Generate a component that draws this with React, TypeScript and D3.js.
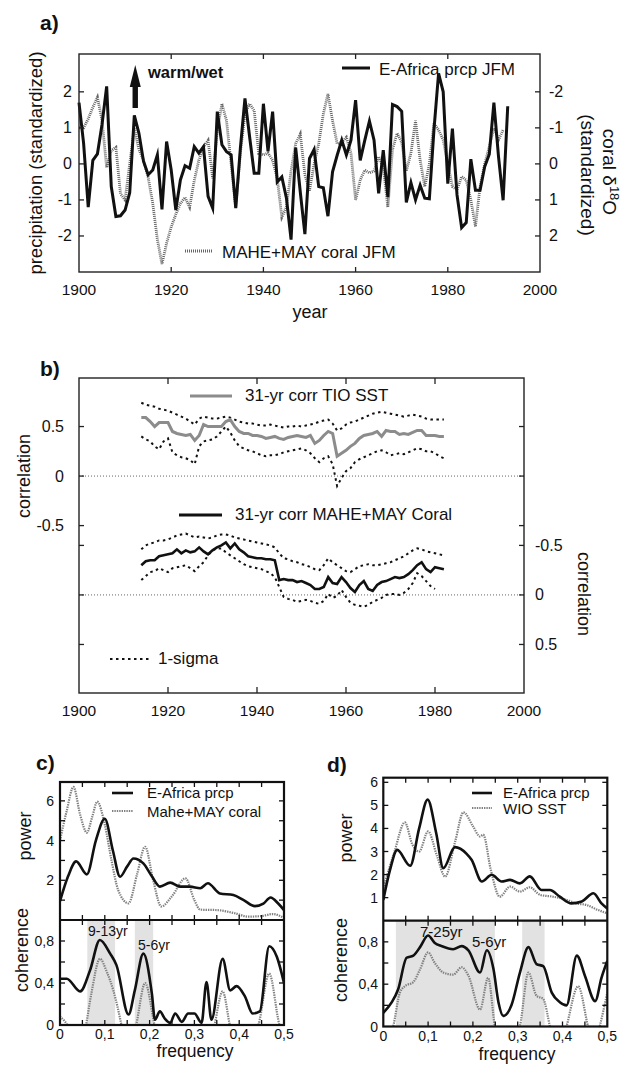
import React from 'react';
import * as d3 from 'd3';

const FONT = '"Liberation Sans", Arial, Helvetica, sans-serif';

// ---------- panel a ----------
const precipStart = 1900;
const precipJFM = [
  1.7, 0.57, -1.2, 0.1, 0.28, 1.1, 2.15, -0.63, -1.46, -1.44,
  -1.28, -0.8, 1.35, 0.85, 0.07, -0.3, -0.17, 0.25, -1.26, 0.62,
  -0.17, -1.28, -0.44, -0.05, -0.12, 0.48, 0.3, 0.48, -0.9, -1.23,
  1.45, 0.53, 0.34, 0.25, -1.23, 0.43, 1.82, 0.76, -0.26, -0.26,
  1.67, 0.35, 1.45, -0.5, -0.36, -0.95, -2.1, 0.45, -0.78, -1.95,
  0.15, 0.4, -0.63, -0.66, -1.45, -0.22, 0.24, 0.66, 0.25, 0.66,
  1.77, 0.1, 0.66, 1.19, 0.66, -0.82, 0.38, -0.92, 1.65, 1.59,
  1.46, -1.07, -0.52, -1.0, -0.59, -0.95, -0.97, 0.95, 2.51, 2.0,
  -0.55, 0.98, -0.86, -1.77, -1.63, 0.13, -0.73, -0.73, -0.08, 0.27,
  1.7, 0.2, -1.01, 1.6,
];
const coralStart = 1900;
const coralJFM = [
  -1.0, -1.0, -1.25, -1.57, -1.85, -1.2, 0.1, -0.37, -0.46, 0.83,
  1.0, 0.0, -1.0, -0.4, -0.1, 0.37, 1.1, 2.1, 2.78, 2.2,
  1.75, 1.4, 1.1, 0.93, 1.2, 0.46, -0.1, -0.46, -0.65, 0.4,
  -0.93, -1.67, -1.2, 0.0, 1.2, -0.3, -1.39, -1.67, -1.48, -0.28,
  -0.25, -0.3, -0.1, 0.4, 1.48, 1.2, 0.2, -0.56, -0.83, 0.3,
  0.74, 0.0, -0.56, -1.39, -1.94, -1.2, -0.56, -0.6, -0.74, -0.3,
  1.0, 0.45, 0.17, 0.25, 0.2, -0.2, 0.1, 1.2, -0.4, -0.85,
  -0.6, 0.2, -0.3, -1.2, -0.1, 0.63, 0.0, -1.13, -0.94, -0.67,
  0.0, 0.63, 0.72, 0.35, 0.45, 1.0, 1.74, 0.63, 0.0, -0.48,
  -1.0, -0.67, -0.94,
];
const aYearTicks = [1900, 1920, 1940, 1960, 1980, 2000];
const aLeftTicks = [-2, -1, 0, 1, 2];
const aRightTicks = [-2, -1, 0, 1, 2];

// ---------- panel b ----------
const corrStart = 1914;
const tioCorr = [
  0.59, 0.59, 0.55, 0.50, 0.54, 0.54, 0.54, 0.45, 0.43, 0.42,
  0.41, 0.42, 0.36, 0.41, 0.52, 0.50, 0.50, 0.50, 0.50, 0.55,
  0.57, 0.50, 0.45, 0.43, 0.43, 0.41, 0.41, 0.40, 0.38, 0.39,
  0.40, 0.38, 0.37, 0.39, 0.40, 0.41, 0.40, 0.39, 0.41, 0.33,
  0.36, 0.41, 0.45, 0.43, 0.20, 0.23, 0.26, 0.30, 0.33, 0.38,
  0.41, 0.42, 0.43, 0.45, 0.40, 0.46, 0.45, 0.45, 0.42, 0.43,
  0.42, 0.44, 0.46, 0.46, 0.41, 0.41, 0.41, 0.40, 0.40,
];
const tioUpper = [
  0.74, 0.72, 0.71, 0.70, 0.68, 0.67, 0.66, 0.64, 0.62, 0.60,
  0.58, 0.55, 0.52, 0.58, 0.60, 0.59, 0.58, 0.58, 0.59, 0.60,
  0.59, 0.57, 0.55, 0.54, 0.53, 0.53, 0.52, 0.51, 0.51, 0.52,
  0.51, 0.50, 0.49, 0.50, 0.50, 0.51, 0.50, 0.51, 0.52, 0.53,
  0.55, 0.56, 0.57, 0.53, 0.46, 0.48, 0.52, 0.54, 0.55, 0.57,
  0.59, 0.61, 0.63, 0.64, 0.65, 0.64, 0.63, 0.62, 0.61, 0.60,
  0.61, 0.62, 0.61, 0.60, 0.58, 0.57, 0.57, 0.57, 0.57,
];
const tioLower = [
  0.40, 0.37, 0.35, 0.30, 0.27, 0.35, 0.38, 0.24, 0.21, 0.19,
  0.18, 0.16, 0.12, 0.30, 0.35, 0.36, 0.37, 0.40, 0.45, 0.50,
  0.44, 0.36, 0.30, 0.28, 0.26, 0.25, 0.23, 0.21, 0.20, 0.21,
  0.21, 0.22, 0.24, 0.25, 0.26, 0.27, 0.28, 0.26, 0.23, 0.18,
  0.14, 0.18, 0.20, 0.12, -0.10, -0.02, 0.05, 0.08, 0.14, 0.17,
  0.19, 0.21, 0.23, 0.25, 0.26, 0.24, 0.21, 0.22, 0.23, 0.22,
  0.24, 0.26, 0.28, 0.27, 0.25, 0.25, 0.23, 0.20, 0.18,
];
const coralCorr = [
  -0.30, -0.34, -0.35, -0.35, -0.39, -0.40, -0.41, -0.42, -0.46, -0.42,
  -0.45, -0.43, -0.44, -0.48, -0.44, -0.41, -0.45, -0.48, -0.50, -0.53,
  -0.47, -0.52, -0.46, -0.43, -0.39, -0.38, -0.37, -0.37, -0.36, -0.36,
  -0.35, -0.15, -0.16, -0.15, -0.15, -0.13, -0.14, -0.12, -0.10, -0.06,
  -0.06, -0.08, -0.18, -0.12, -0.11, -0.18, -0.13, -0.07, -0.03, -0.10,
  -0.14, -0.06, -0.04, -0.10, -0.13, -0.14, -0.16, -0.18, -0.17, -0.18,
  -0.21, -0.25, -0.30, -0.33, -0.26, -0.23, -0.28, -0.27, -0.26,
];
const coralUpper = [
  -0.46, -0.50, -0.52, -0.53, -0.55, -0.55, -0.56, -0.58, -0.60, -0.61,
  -0.62, -0.60, -0.58, -0.59, -0.58, -0.57, -0.58, -0.60, -0.61, -0.61,
  -0.60, -0.58, -0.57, -0.56, -0.55, -0.54, -0.53, -0.52, -0.51, -0.50,
  -0.48, -0.42, -0.37, -0.36, -0.34, -0.33, -0.31, -0.30, -0.28, -0.26,
  -0.25, -0.30, -0.37, -0.33, -0.30, -0.27, -0.24, -0.23, -0.26, -0.29,
  -0.30, -0.31, -0.30, -0.30, -0.31, -0.32, -0.33, -0.35, -0.37, -0.39,
  -0.42, -0.45, -0.47, -0.46, -0.44, -0.43, -0.42, -0.41, -0.40,
];
const coralLower = [
  -0.15, -0.19, -0.23, -0.24, -0.27, -0.25, -0.23, -0.27, -0.28, -0.29,
  -0.30, -0.27, -0.24, -0.29, -0.33, -0.40, -0.45, -0.47, -0.47, -0.43,
  -0.40, -0.37, -0.34, -0.31, -0.29, -0.28, -0.27, -0.26, -0.24, -0.22,
  -0.18, -0.08, 0.02, 0.04, 0.05, 0.07, 0.06, 0.05, 0.06, 0.08,
  0.09, 0.06, -0.01, 0.03, 0.01, -0.05, 0.02, 0.08, 0.10, 0.11,
  0.12, 0.10, 0.07, 0.05, 0.03, 0.0, -0.01, -0.01, 0.0, -0.02,
  -0.06, -0.12, -0.22, -0.19, -0.14, -0.09, -0.06,
];
const bYearTicks = [1900, 1920, 1940, 1960, 1980, 2000];
const bLeftTicks = [0.5, 0, -0.5];
const bRightTicks = [-0.5, 0, 0.5];

// ---------- panel c ----------
const cPowPrcpF = [0, 0.018, 0.036, 0.06, 0.08, 0.1, 0.118, 0.134, 0.15, 0.164, 0.186, 0.205, 0.223, 0.246, 0.268, 0.29, 0.313, 0.33, 0.357, 0.387, 0.41, 0.435, 0.454, 0.47, 0.487, 0.5];
const cPowPrcp = [0.95, 2.2, 2.95, 2.3, 4.0, 5.1, 3.5, 2.18, 2.7, 3.1, 2.85, 2.2, 1.68, 1.88, 1.68, 1.68, 1.6, 1.85, 1.34, 1.26, 1.0, 0.7, 0.83, 1.13, 0.83, 0.5];
const cPowCoralF = [0, 0.015, 0.03, 0.045, 0.06, 0.072, 0.083, 0.1, 0.115, 0.13, 0.153, 0.172, 0.19, 0.208, 0.226, 0.25, 0.28, 0.3, 0.313, 0.35, 0.39, 0.42, 0.45, 0.475, 0.5];
const cPowCoral = [4.0, 5.5, 6.7, 5.3, 4.4, 5.2, 5.96, 4.8, 3.0, 1.5, 0.84, 2.3, 3.69, 2.0, 0.68, 1.2, 2.1, 1.0, 0.52, 0.5, 0.34, 0.17, 0.2, 0.3, 0.1];
const cCohPrcpF = [0, 0.015, 0.045, 0.067, 0.089, 0.112, 0.126, 0.153, 0.167, 0.186, 0.205, 0.212, 0.223, 0.234, 0.246, 0.257, 0.272, 0.286, 0.3, 0.316, 0.327, 0.338, 0.363, 0.38, 0.394, 0.413, 0.43, 0.446, 0.467, 0.484, 0.5];
const cCohPrcp = [0.44, 0.44, 0.32, 0.52, 0.81, 0.68, 0.57, 0.1, 0.33, 0.68, 0.3, 0.05, 0.13, 0.06, 0.02, 0.11, 0.03, 0.11, 0.11, 0.02, 0.41, 0.05, 0.63, 0.33, 0.37, 0.27, 0.11, 0.13, 0.75, 0.65, 0.4];
const cCohCoralF = [0, 0.022, 0.04, 0.056, 0.07, 0.089, 0.105, 0.119, 0.138, 0.15, 0.17, 0.19, 0.212, 0.23, 0.33, 0.345, 0.363, 0.38, 0.4, 0.443, 0.467, 0.49, 0.5];
const cCohCoral = [0.08, -0.05, -0.3, -0.05, 0.3, 0.63, 0.5, 0.33, -0.02, -0.3, 0.0, 0.4, -0.02, -0.3, -0.3, 0.0, 0.32, -0.02, -0.3, 0.0, 0.49, 0.0, -0.1];
const cBands = [[0.061, 0.123], [0.167, 0.208]];

// ---------- panel d ----------
const dPowPrcpF = [0, 0.015, 0.031, 0.06, 0.08, 0.099, 0.118, 0.134, 0.16, 0.186, 0.197, 0.22, 0.242, 0.264, 0.283, 0.305, 0.327, 0.353, 0.372, 0.394, 0.42, 0.443, 0.469, 0.487, 0.5];
const dPowPrcp = [0.9, 2.2, 3.07, 2.38, 4.0, 5.25, 3.8, 2.28, 3.19, 2.9, 2.64, 1.7, 1.99, 1.7, 1.77, 1.62, 1.92, 1.33, 1.33, 1.04, 0.75, 0.83, 1.19, 0.75, 0.53];
const dPowSstF = [0, 0.025, 0.048, 0.065, 0.08, 0.1, 0.12, 0.138, 0.16, 0.179, 0.2, 0.216, 0.223, 0.24, 0.26, 0.283, 0.305, 0.327, 0.35, 0.379, 0.41, 0.43, 0.454, 0.476, 0.5];
const dPowSst = [1.4, 3.0, 4.26, 3.3, 3.0, 3.87, 2.8, 1.91, 3.4, 4.7, 4.1, 3.65, 3.73, 2.2, 1.04, 1.48, 1.26, 1.45, 1.12, 1.04, 0.9, 0.75, 0.68, 0.49, 0.32];
const dCohPrcpF = [0, 0.019, 0.033, 0.052, 0.067, 0.082, 0.1, 0.115, 0.13, 0.156, 0.175, 0.19, 0.216, 0.231, 0.246, 0.257, 0.268, 0.286, 0.305, 0.324, 0.342, 0.357, 0.376, 0.394, 0.409, 0.432, 0.45, 0.473, 0.487, 0.5];
const dCohPrcp = [0.13, 0.23, 0.35, 0.65, 0.67, 0.75, 0.86, 0.79, 0.76, 0.73, 0.76, 0.72, 0.51, 0.72, 0.54, 0.23, 0.1, 0.2, 0.51, 0.75, 0.59, 0.57, 0.32, 0.23, 0.2, 0.67, 0.48, 0.24, 0.46, 0.62];
const dCohSstF = [0, 0.022, 0.037, 0.048, 0.067, 0.082, 0.1, 0.115, 0.134, 0.156, 0.175, 0.19, 0.216, 0.234, 0.249, 0.27, 0.29, 0.305, 0.324, 0.342, 0.357, 0.372, 0.39, 0.409, 0.435, 0.457, 0.47, 0.483, 0.5];
const dCohSst = [-0.2, 0.0, 0.32, 0.38, 0.42, 0.54, 0.7, 0.6, 0.51, 0.49, 0.56, 0.48, 0.16, 0.46, 0.0, -0.3, -0.2, 0.0, 0.51, 0.29, 0.26, 0.0, -0.3, 0.0, 0.38, 0.0, -0.2, 0.0, 0.32];
const dBands = [[0.028, 0.249], [0.31, 0.36]];

const freqTicks = [0, 0.1, 0.2, 0.3, 0.4, 0.5];
const freqMinor = [0.05, 0.1, 0.15, 0.2, 0.25, 0.3, 0.35, 0.4, 0.45];
const fmtComma = (v: number) => (v === 0 ? '0' : d3.format('.1f')(v).replace('.', ','));

type Pt = [number, number];
const zip = (f: number[], v: number[]): Pt[] => f.map((x, i) => [x, v[i]]);

function Spectral(props: {
  id: string; x0: number; x1: number; top: number; mid: number; bot: number;
  powMax: number; powTicks: number[]; powLabels: number[];
  cohLabels: number[]; cohTicks: number[];
  bands: number[][];
  powA: Pt[]; powB: Pt[]; cohA: Pt[]; cohB: Pt[];
  labelRight: number;
}) {
  const p = props;
  const x = d3.scaleLinear().domain([0, 0.5]).range([p.x0, p.x1]);
  const yp = d3.scaleLinear().domain([0, p.powMax]).range([p.mid, p.top]);
  const yc = d3.scaleLinear().domain([0, 1]).range([p.bot, p.mid]);
  const lp = d3.line<Pt>().x(d => x(d[0])).y(d => yp(d[1])).curve(d3.curveMonotoneX);
  const lc = d3.line<Pt>().x(d => x(d[0])).y(d => yc(d[1])).curve(d3.curveMonotoneX);
  const T = 5;
  return (
    <g>
      <defs>
        <clipPath id={p.id + 'p'}><rect x={p.x0} y={p.top} width={p.x1 - p.x0} height={p.mid - p.top} /></clipPath>
        <clipPath id={p.id + 'c'}><rect x={p.x0} y={p.mid} width={p.x1 - p.x0} height={p.bot - p.mid} /></clipPath>
      </defs>
      {p.bands.map((b, i) => (
        <rect key={i} x={x(b[0])} y={p.mid} width={x(b[1]) - x(b[0])} height={p.bot - p.mid} fill="#e2e2e2" />
      ))}
      <g clipPath={`url(#${p.id}p)`}>
        <path d={lp(p.powB) || ''} fill="none" stroke="#808080" strokeWidth={2.2} strokeDasharray="1.4,1" />
        <path d={lp(p.powA) || ''} fill="none" stroke="#111" strokeWidth={2.6} />
      </g>
      <g clipPath={`url(#${p.id}c)`}>
        <path d={lc(p.cohB) || ''} fill="none" stroke="#808080" strokeWidth={2.2} strokeDasharray="1.4,1" />
        <path d={lc(p.cohA) || ''} fill="none" stroke="#111" strokeWidth={2.6} />
      </g>
      {freqMinor.map(f => (
        <g key={f} stroke="#111" strokeWidth={1.3}>
          <line x1={x(f)} x2={x(f)} y1={p.top} y2={p.top + T} />
          <line x1={x(f)} x2={x(f)} y1={p.mid} y2={p.mid - T} />
          <line x1={x(f)} x2={x(f)} y1={p.mid} y2={p.mid + T} />
          <line x1={x(f)} x2={x(f)} y1={p.bot} y2={p.bot - T} />
        </g>
      ))}
      {p.powTicks.map(v => (
        <g key={v} stroke="#111" strokeWidth={1.3}>
          <line x1={p.x0} x2={p.x0 + T} y1={yp(v)} y2={yp(v)} />
          <line x1={p.x1} x2={p.x1 - T} y1={yp(v)} y2={yp(v)} />
        </g>
      ))}
      {p.cohTicks.map(v => (
        <g key={v} stroke="#111" strokeWidth={1.3}>
          <line x1={p.x0} x2={p.x0 + T} y1={yc(v)} y2={yc(v)} />
          <line x1={p.x1} x2={p.x1 - T} y1={yc(v)} y2={yc(v)} />
        </g>
      ))}
      <rect x={p.x0} y={p.top} width={p.x1 - p.x0} height={p.bot - p.top} fill="none" stroke="#111" strokeWidth={2.2} />
      <line x1={p.x0} x2={p.x1} y1={p.mid} y2={p.mid} stroke="#111" strokeWidth={2.2} />
      {p.powLabels.map(v => (
        <text key={v} x={p.labelRight} y={yp(v) + 5} textAnchor="end" fontSize={14}>{v}</text>
      ))}
      {p.cohLabels.map(v => (
        <text key={v} x={p.labelRight} y={yc(v) + 5} textAnchor="end" fontSize={14}>{fmtComma(v)}</text>
      ))}
      {freqTicks.map(f => (
        <text key={f} x={x(f)} y={p.bot + 14} textAnchor="middle" fontSize={14}>{fmtComma(f)}</text>
      ))}
    </g>
  );
}

export default function App() {
  const ax = d3.scaleLinear().domain([1900, 2000]).range([79, 540]);
  const ay = d3.scaleLinear().domain([-3, 3.05]).range([272, 54]);
  const ayR = d3.scaleLinear().domain([3, -3.05]).range([272, 54]);
  const lineP = d3.line<number>().x((_, i) => ax(precipStart + i)).y(d => ay(d));
  const lineC = d3.line<number>().x((_, i) => ax(coralStart + i)).y(d => ayR(d));

  const bx = d3.scaleLinear().domain([1900, 2000]).range([79, 524]);
  const byL = d3.scaleLinear().domain([-2.19, 0.99]).range([693, 378]);
  const byR = d3.scaleLinear().domain([0.99, -2.19]).range([693, 378]);
  const lbL = d3.line<number>().x((_, i) => bx(corrStart + i)).y(d => byL(d));
  const lbR = d3.line<number>().x((_, i) => bx(corrStart + i)).y(d => byR(d));

  const T = 5;
  const arrowX = ax(1912.2);

  return (
    <svg width={634} height={1068} style={{ position: 'absolute', left: 0, top: 0, background: '#fff' }}
      fontFamily={FONT} fill="#111">
      <rect x={0} y={0} width={634} height={1068} fill="#fff" />

      {/* ================= panel a ================= */}
      <text x={40} y={30} fontSize={21} fontWeight="bold">a)</text>
      <path d={lineC(coralJFM) || ''} fill="none" stroke="#666" strokeWidth={2.8} strokeDasharray="1,1" />
      <path d={lineP(precipJFM) || ''} fill="none" stroke="#111" strokeWidth={3} strokeLinejoin="miter" strokeMiterlimit={6} />
      <rect x={79} y={54} width={461} height={218} fill="none" stroke="#222" strokeWidth={1.4} />
      {aYearTicks.slice(1, -1).map(t => (
        <g key={t} stroke="#222" strokeWidth={1.3}>
          <line x1={ax(t)} x2={ax(t)} y1={272} y2={272 - T} />
          <line x1={ax(t)} x2={ax(t)} y1={54} y2={54 + T} />
        </g>
      ))}
      {aYearTicks.map(t => (
        <text key={t} x={ax(t)} y={295} textAnchor="middle" fontSize={15.5}>{t}</text>
      ))}
      {aLeftTicks.map(v => (
        <g key={v}>
          <line x1={79} x2={79 + T} y1={ay(v)} y2={ay(v)} stroke="#222" strokeWidth={1.3} />
          <text x={72} y={ay(v) + 5.5} textAnchor="end" fontSize={16}>{v}</text>
        </g>
      ))}
      {aRightTicks.map(v => (
        <g key={v}>
          <line x1={540} x2={540 - T} y1={ayR(v)} y2={ayR(v)} stroke="#222" strokeWidth={1.3} />
          <text x={549} y={ayR(v) + 5.5} textAnchor="start" fontSize={16}>{v}</text>
        </g>
      ))}
      <text transform="translate(42,163) rotate(-90)" textAnchor="middle" fontSize={18.5}>precipitation (standardized)</text>
      <text transform="translate(603,172) rotate(90)" textAnchor="middle" fontSize={19}>
        <tspan>coral δ</tspan><tspan dy={-7} fontSize={13}>18</tspan><tspan dy={7}>O</tspan>
      </text>
      <text transform="translate(581,175) rotate(90)" textAnchor="middle" fontSize={19}>(standardized)</text>
      <text x={310} y={318} textAnchor="middle" fontSize={18}>year</text>
      <rect x={arrowX - 2.7} y={86} width={5.4} height={22} fill="#111" />
      <path d={`M${arrowX - 5.5},87 L${arrowX},65 L${arrowX + 5.5},87 Z`} fill="#111" />
      <text x={148} y={78} fontSize={16.5} fontWeight="bold">warm/wet</text>
      <line x1={342} x2={370} y1={68} y2={68} stroke="#111" strokeWidth={3} />
      <text x={379} y={75} fontSize={17}>E-Africa prcp JFM</text>
      <line x1={185} x2={213} y1={251} y2={251} stroke="#666" strokeWidth={2.8} strokeDasharray="1,1" />
      <text x={222} y={258} fontSize={17}>MAHE+MAY coral JFM</text>

      {/* ================= panel b ================= */}
      <text x={40} y={376} fontSize={21} fontWeight="bold">b)</text>
      <line x1={79} x2={524} y1={byL(0)} y2={byL(0)} stroke="#555" strokeWidth={0.9} strokeDasharray="1,2" />
      <line x1={79} x2={524} y1={byR(0)} y2={byR(0)} stroke="#555" strokeWidth={0.9} strokeDasharray="1,2" />
      <path d={lbL(tioUpper) || ''} fill="none" stroke="#111" strokeWidth={2} strokeDasharray="2.5,3.5" />
      <path d={lbL(tioLower) || ''} fill="none" stroke="#111" strokeWidth={2} strokeDasharray="2.5,3.5" />
      <path d={lbL(tioCorr) || ''} fill="none" stroke="#8c8c8c" strokeWidth={3} />
      <path d={lbR(coralUpper) || ''} fill="none" stroke="#111" strokeWidth={2} strokeDasharray="2.5,3.5" />
      <path d={lbR(coralLower) || ''} fill="none" stroke="#111" strokeWidth={2} strokeDasharray="2.5,3.5" />
      <path d={lbR(coralCorr) || ''} fill="none" stroke="#111" strokeWidth={2.6} />
      <rect x={79} y={378} width={445} height={315} fill="none" stroke="#222" strokeWidth={1.4} />
      {bYearTicks.slice(1, -1).map(t => (
        <g key={t} stroke="#222" strokeWidth={1.3}>
          <line x1={bx(t)} x2={bx(t)} y1={693} y2={693 - 6} />
          <line x1={bx(t)} x2={bx(t)} y1={378} y2={378 + 6} />
        </g>
      ))}
      {bYearTicks.map(t => (
        <text key={t} x={bx(t)} y={716} textAnchor="middle" fontSize={15.5}>{t}</text>
      ))}
      {bLeftTicks.map(v => (
        <g key={'l' + v}>
          <line x1={79} x2={79 + T} y1={byL(v)} y2={byL(v)} stroke="#222" strokeWidth={1.3} />
          <line x1={524} x2={524 - T} y1={byL(v)} y2={byL(v)} stroke="#222" strokeWidth={1.3} />
          <text x={64} y={byL(v) + 5.5} textAnchor="end" fontSize={16}>{v}</text>
        </g>
      ))}
      {bRightTicks.map(v => (
        <g key={'r' + v}>
          <line x1={79} x2={79 + T} y1={byR(v)} y2={byR(v)} stroke="#222" strokeWidth={1.3} />
          <line x1={524} x2={524 - T} y1={byR(v)} y2={byR(v)} stroke="#222" strokeWidth={1.3} />
          <text x={535} y={byR(v) + 5.5} textAnchor="start" fontSize={16}>{v}</text>
        </g>
      ))}
      <text transform="translate(30,476) rotate(-90)" textAnchor="middle" fontSize={18}>correlation</text>
      <text transform="translate(578,594) rotate(90)" textAnchor="middle" fontSize={18}>correlation</text>
      <line x1={190} x2={232} y1={396} y2={396} stroke="#8c8c8c" strokeWidth={3} />
      <text x={245} y={401} fontSize={17}>31-yr corr TIO SST</text>
      <line x1={179} x2={222} y1={515} y2={515} stroke="#111" strokeWidth={2.8} />
      <text x={235} y={520} fontSize={17}>31-yr corr MAHE+MAY Coral</text>
      <line x1={110} x2={152} y1={659} y2={659} stroke="#111" strokeWidth={2} strokeDasharray="2.5,3.5" />
      <text x={158} y={664} fontSize={17}>1-sigma</text>

      {/* ================= panel c ================= */}
      <text x={36} y={770} fontSize={21} fontWeight="bold">c)</text>
      <Spectral id="sc" x0={60} x1={284} top={782} mid={920} bot={1025}
        powMax={6.95} powTicks={[1, 2, 3, 4, 5, 6]} powLabels={[2, 4, 6]}
        cohLabels={[0, 0.4, 0.8]} cohTicks={[0.2, 0.4, 0.6, 0.8]}
        bands={cBands}
        powA={zip(cPowPrcpF, cPowPrcp)} powB={zip(cPowCoralF, cPowCoral)}
        cohA={zip(cCohPrcpF, cCohPrcp)} cohB={zip(cCohCoralF, cCohCoral)}
        labelRight={54} />
      <text transform="translate(31,836) rotate(-90)" textAnchor="middle" fontSize={18}>power</text>
      <text transform="translate(28,950) rotate(-90)" textAnchor="middle" fontSize={18}>coherence</text>
      <text x={195} y={1057} textAnchor="middle" fontSize={17.5}>frequency</text>
      <line x1={112} x2={133} y1={793} y2={793} stroke="#111" strokeWidth={2.6} />
      <text x={147} y={798} fontSize={15}>E-Africa prcp</text>
      <line x1={112} x2={133} y1={811} y2={811} stroke="#808080" strokeWidth={2.2} strokeDasharray="1.4,1" />
      <text x={147} y={817} fontSize={15}>Mahe+MAY coral</text>
      <text x={88} y={936} fontSize={14}>9-13yr</text>
      <text x={138} y={950} fontSize={14}>5-6yr</text>

      {/* ================= panel d ================= */}
      <text x={327} y={772} fontSize={21} fontWeight="bold">d)</text>
      <Spectral id="sd" x0={383.3} x1={607.3} top={777.7} mid={920.7} bot={1026.5}
        powMax={6.2} powTicks={[1, 2, 3, 4, 5, 6]} powLabels={[1, 2, 3, 4, 5, 6]}
        cohLabels={[0, 0.4, 0.8]} cohTicks={[0.2, 0.4, 0.6, 0.8]}
        bands={dBands}
        powA={zip(dPowPrcpF, dPowPrcp)} powB={zip(dPowSstF, dPowSst)}
        cohA={zip(dCohPrcpF, dCohPrcp)} cohB={zip(dCohSstF, dCohSst)}
        labelRight={378} />
      <text transform="translate(352,838) rotate(-90)" textAnchor="middle" fontSize={18}>power</text>
      <text transform="translate(347,960) rotate(-90)" textAnchor="middle" fontSize={18}>coherence</text>
      <text x={517} y={1060} textAnchor="middle" fontSize={17.5}>frequency</text>
      <line x1={472} x2={492} y1={793} y2={793} stroke="#111" strokeWidth={2.6} />
      <text x={503} y={798} fontSize={15}>E-Africa prcp</text>
      <line x1={472} x2={492} y1={808} y2={808} stroke="#808080" strokeWidth={2.2} strokeDasharray="1.4,1" />
      <text x={503} y={814} fontSize={15}>WIO SST</text>
      <text x={420} y={937} fontSize={15}>7-25yr</text>
      <text x={472} y={947} fontSize={15}>5-6yr</text>
    </svg>
  );
}
